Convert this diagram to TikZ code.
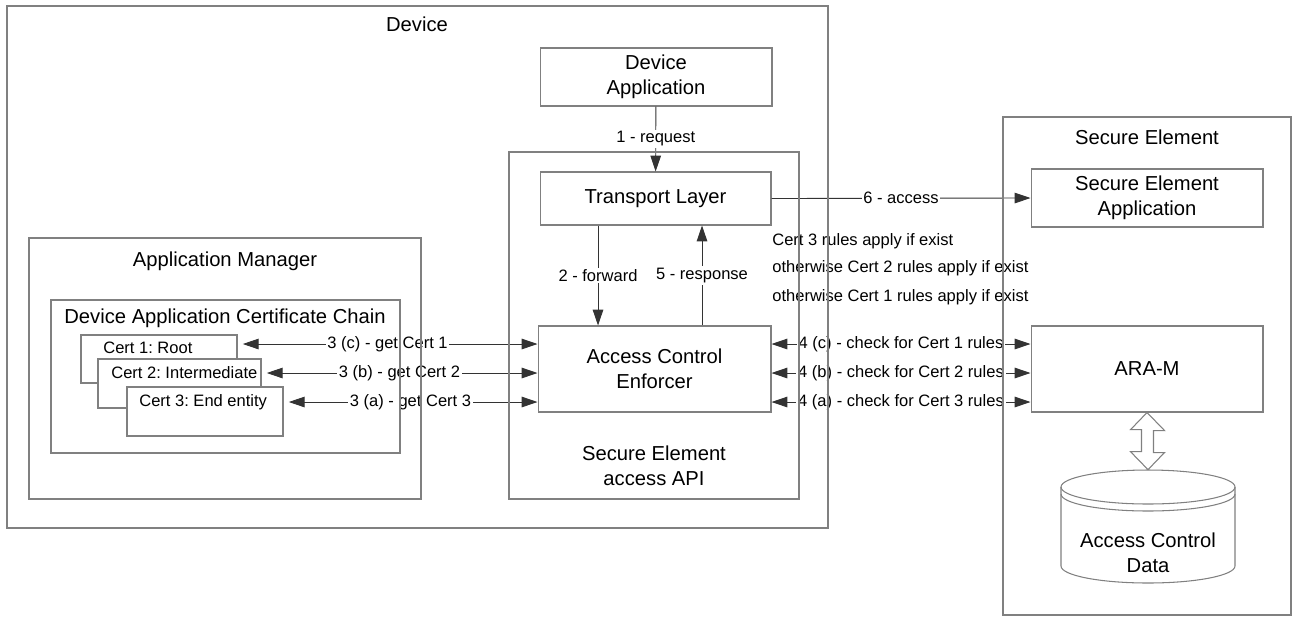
\documentclass[tikz,border=0pt]{standalone}
\usepackage{fontspec}
\setmainfont{Liberation Sans}
\usetikzlibrary{arrows.meta,fit,positioning}

\newcommand{\bigtxt}{\fontsize{11.5}{14.2}\selectfont}
\newcommand{\smalltxt}{\fontsize{9.4}{11}\selectfont}
\frenchspacing

\begin{document}
\begin{tikzpicture}[x=0.02cm, y=-0.02cm,
    box/.style={draw=black!50, line width=0.6pt, fill=white, inner sep=0pt},
    blk/.style={box, font=\bigtxt, align=center},
    frame/.style={draw=black!50, line width=0.6pt, inner sep=0pt},
    title/.style={font=\bigtxt, align=center, inner sep=0pt},
    lbl/.style={font=\smalltxt, fill=white, inner sep=1pt},
    conn/.style={draw=black!80, line width=0.5pt, -{Triangle[length=9pt,width=6pt]}},
    biconn/.style={conn, {Triangle[length=9pt,width=6pt]}-{Triangle[length=9pt,width=6pt]}}]
      \useasboundingbox (0,0) rectangle (1293,616);

      % rows of the certificate requests
      \coordinate (rc) at (0,344);
      \coordinate (rb) at (0,373);
      \coordinate (ra) at (0,402);
      \coordinate (fwd) at (598,0);
      \coordinate (rsp) at (702,0);

      % device side
      \node[blk, minimum width=4.64cm, minimum height=1.16cm] (devapp) at (656,77) {Device\\Application};
      \node[blk, minimum width=4.62cm, minimum height=1.06cm] (trans) at (655.5,198.5) {Transport Layer};
      \node[blk, minimum width=4.66cm, minimum height=1.72cm] (ace) at (654.5,369) {Access Control\\Enforcer};

      \node[box, fit={(81,335) (237,383)}] (cert1) {};
      \node[box, fit={(98,359) (261,408)}] (cert2) {};
      \node[box, fit={(127,387) (283,436)}] (cert3) {};
      \node[font=\smalltxt, anchor=west, inner sep=0pt] (cert1txt) at (103,348) {Cert 1: Root};
      \node[font=\smalltxt, anchor=west, inner sep=0pt] (cert2txt) at (111,373) {Cert 2: Intermediate};
      \node[font=\smalltxt, anchor=west, inner sep=0pt] (cert3txt) at (139,402) {Cert 3: End entity};

      % secure element side
      \node[blk, minimum width=4.64cm, minimum height=1.16cm] (seapp) at (1147,198) {Secure Element\\Application};
      \node[blk, minimum width=4.64cm, minimum height=1.72cm] (aram) at (1147,369) {ARA-M};

      \node[inner sep=0pt, fit={(1061,470) (1235,583)}] (acd) {};
      \draw[frame] (1061,487) -- (1061,566)
            arc[start angle=180, end angle=360, x radius=1.74cm, y radius=0.34cm] -- (1235,487);
      \draw[frame] (1148,487) ellipse[x radius=1.74cm, y radius=0.34cm];
      \draw[frame] (1061,494) arc[start angle=180, end angle=360, x radius=1.74cm, y radius=0.34cm];
      \node[title] (acdtxt) at (1148,553) {Access Control\\Data};

      \draw[frame, fill=white] (aram.south) -- ++(17.5,18) -- ++(-11,0) -- ++(0,22) -- ++(11,0)
            -- (acd.north) -- ++(-17.5,-18) -- ++(11,0) -- ++(0,-22) -- ++(-11,0) -- cycle;

      % messages
      \draw[conn] (devapp) -- (trans) node[lbl, midway] {1 - request};
      \draw[conn] (trans.south -| fwd) -- (ace.north -| fwd) node[lbl, midway] {2 - forward};
      \draw[conn] (ace.north -| rsp) -- (trans.south -| rsp) node[lbl, midway] {5 - response};
      \draw[conn] (trans.east) -- (seapp.west) node[lbl, midway] {6 - access};

      \draw[biconn, shorten <=3pt] (cert1.east |- rc) -- (ace.west |- rc) node[lbl, midway] {3 (c) - get Cert 1};
      \draw[biconn, shorten <=3pt] (cert2.east |- rb) -- (ace.west |- rb) node[lbl, midway] {3 (b) - get Cert 2};
      \draw[biconn, shorten <=3pt] (cert3.east |- ra) -- (ace.west |- ra) node[lbl, midway] {3 (a) - get Cert 3};

      \draw[biconn] (ace.east |- rc) -- (aram.west |- rc) node[lbl, midway] {4 (c) - check for Cert 1 rules};
      \draw[biconn] (ace.east |- rb) -- (aram.west |- rb) node[lbl, midway] {4 (b) - check for Cert 2 rules};
      \draw[biconn] (ace.east |- ra) -- (aram.west |- ra) node[lbl, midway] {4 (a) - check for Cert 3 rules};

      \node[font=\smalltxt, anchor=west, inner sep=0pt] (rules1) at (772,241) {Cert 3 rules apply if exist};
      \node[font=\smalltxt, anchor=west, inner sep=0pt] (rules2) at (772,268) {otherwise Cert 2 rules apply if exist};
      \node[font=\smalltxt, anchor=west, inner sep=0pt] (rules3) at (772,297) {otherwise Cert 1 rules apply if exist};

      % containers
      \node[frame, fit={(7,6) (828,528)}] (device) {};
      \node[title] (devicetxt) at (417,24) {Device};
      \node[frame, fit={(509,152) (799,499)}] (api) {};
      \node[title] (apitxt) at (654,466) {Secure Element\\access API};
      \node[frame, fit={(29,238) (421,499)}] (appmgr) {};
      \node[title] (appmgrtxt) at (225,261) {Application Manager};
      \node[frame, fit={(51,300) (400,453)}] (chain) {};
      \node[title] (chaintxt) at (225,318) {Device Application Certificate Chain};
      \node[frame, fit={(1003,117) (1291,615)}] (se) {};
      \node[title] (setxt) at (1147,137) {Secure Element};
\end{tikzpicture}
\end{document}
